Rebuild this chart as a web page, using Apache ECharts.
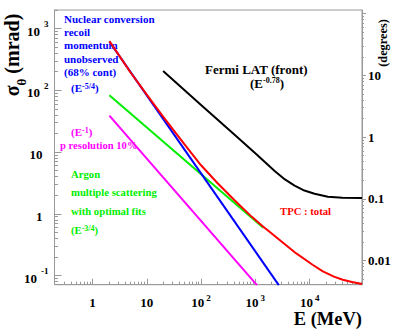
<!DOCTYPE html>
<html>
<head>
<meta charset="utf-8">
<script src="https://cdn.jsdelivr.net/npm/echarts@6/dist/echarts.min.js"></script>
<style>
  html, body { margin: 0; padding: 0; background: #fff; }
  #chart { width: 395px; height: 329px; }
</style>
</head>
<body>
<div id="chart"></div>
<script>
;
(function () {

    // energy (MeV) and angular resolution (mrad)
    var recoilE = [2.05, 2700];
    var recoilMrad = [615, 0.07];

    var momentumE = [2.05, 1070];
    var momentumMrad = [39, 0.07];

    var scatterE = [2.05, 1400];
    var scatterMrad = [83, 0.595];

    var totalE = [2.05, 5, 10, 20, 50, 100, 200, 418, 850, 1380, 1800, 2800, 5670, 11500, 17500, 28000, 40700, 60000, 92000];
    var totalMrad = [625, 196, 85, 37.5, 13.2, 6.1, 3.15, 1.64, 0.90, 0.625, 0.515, 0.375, 0.228, 0.148, 0.117, 0.096, 0.0855, 0.0785, 0.073];

    var fermiE = [20, 100, 400, 1045, 2265, 3500, 5275, 8000, 12300, 21600, 40000, 92000];
    var fermiMrad = [206, 58, 19.6, 9.2, 4.95, 3.6, 2.85, 2.38, 2.11, 1.89, 1.82, 1.80];

    var xMajor = [1, 10, 100, 1000, 10000];
    var yMajor = [0.1, 1, 10, 100, 1000];
    var degMajor = [0.01, 0.1, 1, 10, 100];
    var degLabels = [0.01, 0.1, 1, 10];

    var xMin = 0.2, xMax = 92000;
    var yMin = 0.071, yMax = 2000;
    var mradToDeg = 180 / Math.PI / 1000;

    var font = 'Liberation Serif';
    var axisGray = '#999';

    function minors(lo, hi) {
        var out = [];
        for (var p = -4; p <= 6; p++) {
            for (var m = 2; m <= 9; m++) {
                var v = +(m * Math.pow(10, p)).toPrecision(3);
                if (v >= lo && v <= hi) out.push(v);
            }
        }
        return out;
    }

    function zip(a, b) {
        return a.map(function (v, i) { return [v, b[i]]; });
    }

    function powLabel(v) {
        var p = Math.round(Math.log10(v));
        if (p === 0) return '{p|1}';
        if (p === 1) return '{p|10}';
        return '{n|10}{e|' + p + '}';
    }

    var labelRich = {
        n: { fontFamily: font, fontWeight: 'bold', fontSize: 13, color: '#000', lineHeight: 15, verticalAlign: 'bottom' },
        p: { fontFamily: font, fontWeight: 'bold', fontSize: 13, color: '#000', lineHeight: 15, verticalAlign: 'bottom' },
        e: { fontFamily: font, fontWeight: 'bold', fontSize: 9, color: '#000', lineHeight: 9, verticalAlign: 'top', padding: [0, 0, 0, 2] }
    };
    var yRich = {
        n: { fontFamily: font, fontWeight: 'bold', fontSize: 13, color: '#000', lineHeight: 18, verticalAlign: 'bottom' },
        p: { fontFamily: font, fontWeight: 'bold', fontSize: 13, color: '#000', lineHeight: 18, verticalAlign: 'bottom', padding: [0, 6, 0, 0] },
        e: { fontFamily: font, fontWeight: 'bold', fontSize: 9, color: '#000', lineHeight: 9, verticalAlign: 'top', padding: [0, 0, 0, 4] }
    };

    function majorAxis(extra) {
        var base = {
            type: 'log',
            axisLine: { show: true, onZero: false, lineStyle: { color: axisGray, width: 1 } },
            splitLine: { show: false },
            minorTick: { show: false }
        };
        return Object.assign(base, extra);
    }

    function minorAxis(extra) {
        var base = {
            type: 'log',
            axisLine: { show: false, onZero: false },
            axisLabel: { show: false },
            splitLine: { show: false }
        };
        return Object.assign(base, extra);
    }

    var sup = { fontSize: 8, verticalAlign: 'top', lineHeight: 8, fontWeight: 'bold', fontFamily: font };

    function txt(x, y, text, color, size, extra) {
        var el = {
            type: 'text',
            x: x,
            y: y,
            style: {
                text: text,
                fill: color,
                fontFamily: font,
                fontWeight: 'bold',
                fontSize: size,
                align: 'left',
                verticalAlign: 'middle',
                textAlign: 'left',
                textVerticalAlign: 'middle',
                rich: { s: Object.assign({}, sup, { fill: color, color: color }) }
            }
        };
        if (extra) {
            Object.assign(el.style, extra.style || {});
            if (extra.rotation !== undefined) el.rotation = extra.rotation;
        }
        return el;
    }

    var blue = '#0000ff', magenta = '#ff00ff', green = '#00ee00', red = '#ff0000';

    var graphics = [
        txt(64, 19, 'Nuclear conversion', blue, 11),
        txt(64, 32, 'recoil', blue, 11),
        txt(64, 45, 'momentum', blue, 11),
        txt(64, 59, 'unobserved', blue, 11),
        txt(64, 72, '(68% cont)', blue, 11),
        txt(71, 88, '(E{s|-5/4})', blue, 11),
        txt(71, 132, '(E{s|-1})', magenta, 11),
        txt(60, 145, 'p resolution 10%', magenta, 10.6),
        txt(71, 174, 'Argon', green, 10.7),
        txt(71, 192, 'multiple scattering', green, 10.7),
        txt(71, 211, 'with optimal fits', green, 10.7),
        txt(71, 230, '(E{s|-3/4})', green, 10.7),
        txt(205, 69, 'Fermi LAT (front)', '#000', 13),
        txt(250, 83, '(E{s|-0.78})', '#000', 13),
        txt(280, 211, 'TPC : total', red, 10.7),
        txt(362, 319, 'E (MeV)', '#000', 18.5, { style: { align: 'right', textAlign: 'right' } }),
        txt(383, 43, '(degrees)', '#000', 12.3, { rotation: Math.PI / 2, style: { align: 'center', textAlign: 'center' } }),
        {
            type: 'text',
            x: 15,
            y: 55,
            rotation: Math.PI / 2,
            style: {
                text: '{a|σ}{b|θ}{a| (mrad)}',
                align: 'center',
                verticalAlign: 'middle',
                textAlign: 'center',
                textVerticalAlign: 'middle',
                rich: {
                    a: { fontFamily: font, fontWeight: 'bold', fontSize: 20, fill: '#000', lineHeight: 26, verticalAlign: 'top' },
                    b: { fontFamily: font, fontWeight: 'bold', fontSize: 13, fill: '#000', lineHeight: 26, verticalAlign: 'bottom' }
                }
            }
        }
    ];

    function line(name, xs, ys, color) {
        return {
            name: name,
            type: 'line',
            xAxisIndex: 0,
            yAxisIndex: 0,
            data: zip(xs, ys),
            showSymbol: false,
            symbol: 'none',
            smooth: false,
            clip: true,
            lineStyle: { color: color, width: 2, join: 'round' }
        };
    }

    var option = {
        animation: false,
        backgroundColor: '#fff',
        grid: {
            left: 54.5, right: 33, top: 10, bottom: 44.3,
            show: true, borderColor: axisGray, borderWidth: 1
        },
        xAxis: [
            majorAxis({
                min: xMin, max: xMax, position: 'bottom',
                axisTick: { show: true, inside: true, length: 6, customValues: xMajor, lineStyle: { color: axisGray } },
                axisLabel: { customValues: xMajor, formatter: powLabel, rich: labelRich, margin: 9 }
            }),
            minorAxis({
                min: xMin, max: xMax, position: 'bottom',
                axisTick: { show: true, inside: true, length: 3, customValues: minors(xMin, xMax), lineStyle: { color: axisGray } }
            })
        ],
        yAxis: [
            majorAxis({
                min: yMin, max: yMax, position: 'left',
                axisTick: { show: true, inside: true, length: 7, customValues: yMajor, lineStyle: { color: axisGray } },
                axisLabel: { customValues: yMajor, formatter: powLabel, rich: yRich, margin: 6 }
            }),
            minorAxis({
                min: yMin, max: yMax, position: 'left',
                axisTick: { show: true, inside: true, length: 3.5, customValues: minors(yMin, yMax), lineStyle: { color: axisGray } }
            }),
            majorAxis({
                min: yMin * mradToDeg, max: yMax * mradToDeg, position: 'right',
                axisTick: { show: true, inside: false, length: 4, customValues: degMajor, lineStyle: { color: axisGray } },
                axisLabel: {
                    customValues: degLabels, margin: 6,
                    fontFamily: font, fontWeight: 'bold', fontSize: 13, color: '#000',
                    formatter: function (v) { return String(+v.toPrecision(2)); }
                }
            }),
            minorAxis({
                min: yMin * mradToDeg, max: yMax * mradToDeg, position: 'right',
                axisTick: { show: true, inside: false, length: 2, customValues: minors(yMin * mradToDeg, yMax * mradToDeg), lineStyle: { color: axisGray } }
            })
        ],
        graphic: graphics,
        series: [
            line('p resolution', momentumE, momentumMrad, magenta),
            line('multiple scattering', scatterE, scatterMrad, green),
            line('recoil', recoilE, recoilMrad, blue),
            line('TPC total', totalE, totalMrad, red),
            line('Fermi LAT', fermiE, fermiMrad, '#000')
        ]
    };

    var myChart = echarts.init(document.getElementById('chart'), null, { renderer: 'svg' });
    myChart.setOption(option);

})();
</script>
</body>
</html>
